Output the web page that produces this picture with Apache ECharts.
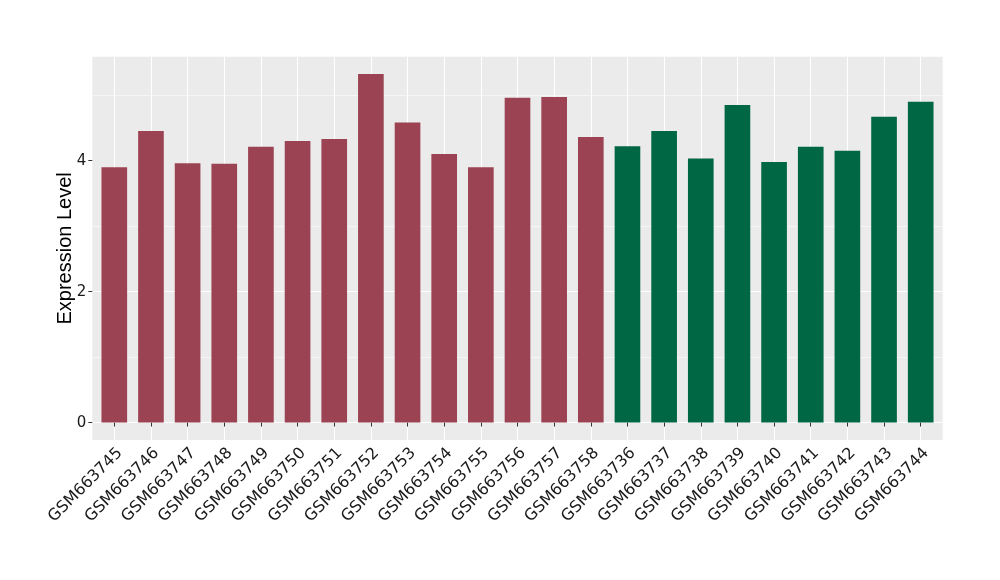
<!DOCTYPE html>
<html>
<head>
<meta charset="utf-8">
<script src="https://cdn.jsdelivr.net/npm/echarts@6/dist/echarts.min.js"></script>
<style>
html,body{margin:0;padding:0;background:#fff;}
#chart{width:1000px;height:580px;}
</style>
</head>
<body>
<div id="chart"></div>
<script>
var categories = ['GSM663745','GSM663746','GSM663747','GSM663748','GSM663749','GSM663750','GSM663751','GSM663752','GSM663753','GSM663754','GSM663755','GSM663756','GSM663757','GSM663758','GSM663736','GSM663737','GSM663738','GSM663739','GSM663740','GSM663741','GSM663742','GSM663743','GSM663744'];
var values = [3.90,4.45,3.96,3.95,4.21,4.30,4.33,5.32,4.58,4.10,3.90,4.96,4.97,4.36,4.22,4.45,4.03,4.85,3.98,4.21,4.15,4.67,4.90];
var groups = ['A','A','A','A','A','A','A','A','A','A','A','A','A','A','B','B','B','B','B','B','B','B','B'];
var groupColors = {A:'#9B4352', B:'#006745'};
var yTicks = [0,2,4];

var vmax = Math.max.apply(null, values);
var pad = vmax * 0.05;
var FONT = 'Liberation Sans, Arial, Helvetica, sans-serif';
var TICKFONT = 'DejaVu Sans, sans-serif';

var chart = echarts.init(document.getElementById('chart'), null, {renderer:'canvas'});
chart.setOption({
  animation:false,
  backgroundColor:'#ffffff',
  grid:[
    {left:92.3, right:57.3, top:56.7, bottom:140, show:true, backgroundColor:'#EBEBEB', borderWidth:0, z:-1},
    {left:92.3, right:57.3, top:29.7, bottom:157.3, show:false},
    {left:114.3, right:79.3, top:56.7, bottom:140, show:false}
  ],
  xAxis:[
    {gridIndex:0, type:'value', min:0, max:1, show:false},
    {gridIndex:1, type:'value', min:0, max:1, show:false},
    {gridIndex:2, type:'category', data:categories, boundaryGap:false,
     axisLine:{show:false},
     axisTick:{show:true, length:4, lineStyle:{color:'#333333', width:1}, alignWithLabel:true},
     splitLine:{show:true, lineStyle:{color:'#FFFFFF', width:1.1}},
     axisLabel:{rotate:45, interval:0, margin:5, fontSize:16, color:'#1a1a1a', fontFamily:TICKFONT,
                align:'right', verticalAlign:'top'}
    }
  ],
  yAxis:[
    {gridIndex:0, type:'value', min:-pad, max:vmax+pad, show:true,
     name:'Expression Level', nameLocation:'middle', nameGap:17,
     nameTextStyle:{fontSize:20, color:'#000000', fontFamily:FONT},
     axisLine:{show:false}, axisTick:{show:false}, axisLabel:{show:false}, splitLine:{show:false}},
    {gridIndex:1, type:'value', min:0, max:6, interval:2,
     axisLine:{show:false},
     axisTick:{show:true, length:4, lineStyle:{color:'#333333', width:1}, customValues:yTicks},
     axisLabel:{show:true, margin:6, fontSize:15, color:'#1a1a1a', fontFamily:TICKFONT, customValues:yTicks},
     splitLine:{show:true, showMaxLine:false, lineStyle:{color:'#FFFFFF', width:1.1}},
     minorTick:{show:false, splitNumber:2},
     minorSplitLine:{show:true, lineStyle:{color:'#F7F7F7', width:0.8}}
    },
    {gridIndex:2, type:'value', min:-pad, max:vmax+pad, show:false}
  ],
  series:[{
    type:'bar',
    xAxisIndex:2, yAxisIndex:2,
    barWidth:'70%',
    data: values.map(function(v,i){ return {value:v, itemStyle:{color:groupColors[groups[i]]}}; })
  }]
});
</script>
</body>
</html>
